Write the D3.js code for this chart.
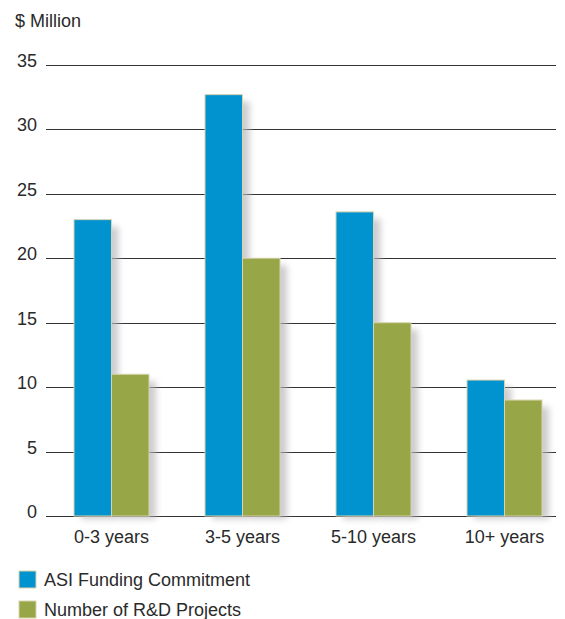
<!DOCTYPE html>
<html>
<head>
<meta charset="utf-8">
<script src="https://cdn.jsdelivr.net/npm/d3@7"></script>
<style>
  body { margin: 0; background: #fff; }
  text { font-family: "Liberation Sans", Arial, sans-serif; fill: #2a2a2a; }
</style>
</head>
<body>
<div id="chart"></div>
<script>
// data
var categories = ["0-3 years", "3-5 years", "5-10 years", "10+ years"];
var seriesNames = ["ASI Funding Commitment", "Number of R&D Projects"];
var funding = [23, 32.7, 23.6, 10.55];
var projects = [11, 20, 15, 9];
var yTicks = [0, 5, 10, 15, 20, 25, 30, 35];
var colors = ["#0093cf", "#97a647"];

var width = 565, height = 619;

var svg = d3.select("#chart").append("svg")
  .attr("width", width)
  .attr("height", height);

// soft shadow behind bars
var defs = svg.append("defs");
defs.append("filter")
  .attr("id", "blur")
  .attr("x", "-50%").attr("y", "-50%")
  .attr("width", "200%").attr("height", "200%")
  .append("feGaussianBlur")
  .attr("stdDeviation", 3);

var y = d3.scaleLinear().domain([0, 35]).range([516, 65]);
var x = d3.scaleBand().domain(categories).range([46, 570]);
var sub = d3.scaleBand().domain([0, 1]).range([-37.5, 37.5]);

// gridlines
svg.append("g")
  .selectAll("line")
  .data(yTicks)
  .enter()
  .append("line")
  .attr("x1", 46)
  .attr("x2", 556)
  .attr("y1", function (d) { return Math.round(y(d)) + 0.5; })
  .attr("y2", function (d) { return Math.round(y(d)) + 0.5; })
  .attr("stroke", "#333")
  .attr("stroke-width", 1);

// tick labels
svg.append("g")
  .selectAll("text")
  .data(yTicks)
  .enter()
  .append("text")
  .attr("x", 37)
  .attr("y", function (d) { return y(d) + 2; })
  .attr("text-anchor", "end")
  .style("font-size", "18px")
  .text(function (d) { return d; });

svg.append("text")
  .attr("x", 15)
  .attr("y", 27)
  .style("font-size", "18px")
  .text("$ Million");

var rows = [];
categories.forEach(function (c, i) {
  rows.push({ cat: c, s: 0, v: funding[i] });
  rows.push({ cat: c, s: 1, v: projects[i] });
});

function cx(d) { return x(d.cat) + x.bandwidth() / 2 + sub(d.s); }

// shadows
svg.append("g")
  .selectAll("rect")
  .data(rows)
  .enter()
  .append("rect")
  .attr("x", function (d) { return cx(d) + 7; })
  .attr("y", function (d) { return y(d.v) + 7; })
  .attr("width", sub.bandwidth())
  .attr("height", function (d) { return 516 - y(d.v) - 4; })
  .attr("fill", "#b8b8bc")
  .attr("opacity", 0.7)
  .attr("filter", "url(#blur)");

// bars
svg.append("g")
  .selectAll("rect")
  .data(rows)
  .enter()
  .append("rect")
  .attr("x", function (d) { return cx(d); })
  .attr("y", function (d) { return y(d.v); })
  .attr("width", sub.bandwidth())
  .attr("height", function (d) { return 516 - y(d.v); })
  .attr("fill", function (d) { return colors[d.s]; })
  .attr("stroke", "#d9d3ae")
  .attr("stroke-width", 1);

// x labels
svg.append("g")
  .selectAll("text")
  .data(categories)
  .enter()
  .append("text")
  .attr("x", function (d) { return x(d) + x.bandwidth() / 2; })
  .attr("y", 543)
  .attr("text-anchor", "middle")
  .style("font-size", "18px")
  .text(function (d) { return d; });

// legend
var legend = svg.append("g")
  .selectAll("g")
  .data(seriesNames)
  .enter()
  .append("g")
  .attr("transform", function (d, i) { return "translate(19," + (571 + i * 30) + ")"; });

legend.append("rect")
  .attr("width", 17)
  .attr("height", 17)
  .attr("fill", function (d, i) { return colors[i]; })
  .attr("stroke", "#d9d3ae");

legend.append("text")
  .attr("x", 25)
  .attr("y", 15)
  .style("font-size", "18px")
  .text(function (d) { return d; });
</script>
</body>
</html>
